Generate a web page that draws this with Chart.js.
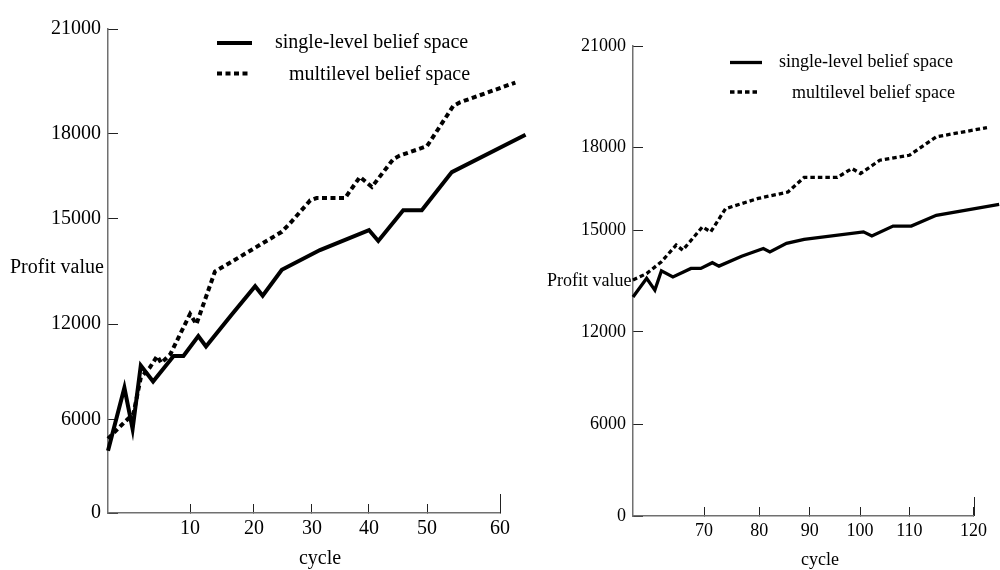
<!DOCTYPE html>
<html>
<head>
<meta charset="utf-8">
<script src="https://cdn.jsdelivr.net/npm/chart.js@4.4.1/dist/chart.umd.min.js"></script>
<style>
html,body{margin:0;padding:0;background:#fff;}
#wrap{position:relative;width:1000px;height:570px;overflow:hidden;background:#fff;}
#c1{position:absolute;left:0;top:0;width:540px;height:570px;}
#c2{position:absolute;left:540px;top:0;width:460px;height:570px;}
</style>
</head>
<body>
<div id="wrap">
<canvas id="c1" width="540" height="570"></canvas>
<canvas id="c2" width="460" height="570"></canvas>
</div>
<script>
// ---------------- DATA ----------------
const seriesLabels = ['single-level belief space', 'multilevel belief space'];
const yTickValues = [0, 6000, 12000, 15000, 18000, 21000];
const leftXTicks = [10, 20, 30, 40, 50, 60];
const rightXTicks = [70, 80, 90, 100, 110, 120];

// Left panel (cycles 0-60)
const leftSingleCycle  = [0, 2, 3, 4, 5.5, 8, 9.2, 11.3, 12.5, 16.5, 20.2, 21.5, 24.8, 31.4, 40, 41.6, 45.9, 49.1, 53.4, 63.5];
const leftSingleProfit = [4000, 8000, 5400, 9400, 8400, 10000, 10000, 11250, 10600, 12270, 13080, 12810, 13550, 14110, 14680, 14370, 15300, 15300, 16640, 17950];
const leftMultiCycle   = [0, 2, 3.1, 4, 5.1, 6, 6.5, 7.6, 10, 11, 13.9, 15.7, 24.8, 26.2, 29.7, 30.8, 35.8, 38.4, 40.5, 44.2, 45.3, 50, 53.6, 54.5, 62.1];
const leftMultiProfit  = [4770, 5830, 6360, 8640, 9270, 10000, 9560, 10110, 12290, 12000, 13500, 13690, 14630, 14870, 15650, 15730, 15730, 16470, 16120, 17100, 17220, 17550, 18790, 18890, 19460];

// Right panel (cycles 57-124)
const rightSingleCycle  = [57, 59.5, 61, 62.2, 64.3, 67.6, 69.4, 71.5, 72.7, 76.8, 80.8, 82.1, 85.4, 88.9, 100.7, 102.4, 106.7, 110.3, 114.2, 124];
const rightSingleProfit = [13030, 13580, 13230, 13800, 13620, 13870, 13870, 14040, 13940, 14230, 14460, 14360, 14610, 14730, 14950, 14830, 15150, 15150, 15540, 15930];
const rightMultiCycle   = [57, 59.5, 62.2, 64.9, 66.1, 69.7, 71.2, 73.9, 79.8, 85.7, 88.9, 95.5, 98.4, 100.1, 104, 110, 114.2, 122.1];
const rightMultiProfit  = [13530, 13720, 14070, 14560, 14410, 15120, 14950, 15780, 16150, 16380, 16910, 16910, 17230, 17050, 17530, 17710, 18310, 18580];

// ---------------- SCALE (piecewise linear axis, as in the original figure) ----------------
function pwForward(v, vals, fr) {
  const n = vals.length;
  let i = 0;
  if (v <= vals[0]) i = 0;
  else if (v >= vals[n - 1]) i = n - 2;
  else { while (v > vals[i + 1]) i++; }
  return fr[i] + (v - vals[i]) / (vals[i + 1] - vals[i]) * (fr[i + 1] - fr[i]);
}
function pwInverse(f, vals, fr) {
  const n = fr.length;
  let i = 0;
  if (f <= fr[0]) i = 0;
  else if (f >= fr[n - 1]) i = n - 2;
  else { while (f > fr[i + 1]) i++; }
  return vals[i] + (f - fr[i]) / (fr[i + 1] - fr[i]) * (vals[i + 1] - vals[i]);
}
function makePiecewise(id, vals, fr) {
  class S extends Chart.LinearScale {
    getPixelForValue(value) {
      if (value === null || value === undefined || isNaN(value)) return NaN;
      return this.getPixelForDecimal(pwForward(value, vals, fr));
    }
    getValueForPixel(pixel) {
      return pwInverse(this.getDecimalForPixel(pixel), vals, fr);
    }
  }
  S.id = id;
  Chart.register(S);
  return id;
}

function toPoints(xs, ys) { return xs.map((x, i) => ({ x: x, y: ys[i] })); }

function decorPlugin(p) {
  return {
    id: 'decor',
    afterDraw(chart) {
      const ctx = chart.ctx;
      const ca = chart.chartArea;
      const xs = chart.scales.x;
      ctx.save();
      // taller tick mark at the end of the x axis
      const ex = Math.round(xs.getPixelForValue(p.xEnd)) + 0.5;
      ctx.strokeStyle = '#222';
      ctx.lineWidth = 1;
      ctx.beginPath();
      ctx.moveTo(ex, ca.bottom);
      ctx.lineTo(ex, ca.bottom - 19);
      ctx.stroke();
      // axis titles
      ctx.fillStyle = '#000';
      ctx.font = p.fs + 'px "Liberation Serif", "Times New Roman", serif';
      ctx.textBaseline = 'middle';
      ctx.textAlign = 'left';
      ctx.fillText('Profit value', p.ylab[0], p.ylab[1]);
      ctx.textAlign = 'center';
      ctx.fillText('cycle', p.xlab[0], p.xlab[1]);
      // legend
      chart.data.datasets.forEach((ds, i) => {
        const L = p.legend[i];
        ctx.setLineDash(ds.borderDash || []);
        ctx.lineWidth = ds.borderWidth;
        ctx.strokeStyle = ds.borderColor;
        ctx.beginPath();
        ctx.moveTo(L[0], L[2]);
        ctx.lineTo(L[1], L[2]);
        ctx.stroke();
        ctx.setLineDash([]);
        ctx.textAlign = 'left';
        ctx.fillText(ds.label, L[3], L[4]);
      });
      ctx.restore();
    }
  };
}

function buildChart(canvasId, p) {
  const xType = makePiecewise('pwx_' + canvasId, p.xBreaks, p.xFracs);
  const yType = makePiecewise('pwy_' + canvasId, yTickValues, p.yFracs);
  const font = { family: '"Liberation Serif", "Times New Roman", serif', size: p.fs };
  return new Chart(document.getElementById(canvasId), {
    type: 'line',
    data: {
      datasets: [
        { label: seriesLabels[0], data: toPoints(p.sx, p.sy), borderColor: '#000', borderWidth: p.lw,
          pointRadius: 0, tension: 0, fill: false, clip: false, borderJoinStyle: 'miter' },
        { label: seriesLabels[1], data: toPoints(p.mx, p.my), borderColor: '#000', borderWidth: p.lw,
          borderDash: p.dash, pointRadius: 0, tension: 0, fill: false, clip: false }
      ]
    },
    options: {
      responsive: false,
      animation: false,
      events: [],
      layout: { padding: p.padding },
      plugins: { legend: { display: false }, tooltip: { enabled: false } },
      scales: {
        x: {
          type: xType,
          afterBuildTicks: s => { s.ticks = p.xTicks.map(v => ({ value: v })); },
          afterFit: s => { s.height = 40; },
          grid: { display: true, drawOnChartArea: false, drawTicks: true, tickLength: -9, color: '#222', lineWidth: 1 },
          border: { display: true, color: '#707070', width: 1.5 },
          ticks: { padding: 13, color: '#000', font: font, autoSkip: false, maxRotation: 0, callback: v => String(v) }
        },
        y: {
          type: yType,
          afterBuildTicks: s => { s.ticks = yTickValues.map(v => ({ value: v })); },
          afterFit: s => { s.width = p.yWidth; },
          grid: { display: true, drawOnChartArea: false, drawTicks: true, tickLength: -10, color: '#222', lineWidth: 1 },
          border: { display: true, color: '#707070', width: 1.5 },
          ticks: { padding: 17, color: '#000', font: font, autoSkip: false, callback: v => String(v) }
        }
      }
    },
    plugins: [decorPlugin(p)]
  });
}

buildChart('c1', {
  sx: leftSingleCycle, sy: leftSingleProfit, mx: leftMultiCycle, my: leftMultiProfit,
  xTicks: leftXTicks, xEnd: 60,
  xBreaks: [0, 10, 20, 30, 40, 50, 60],
  xFracs: [0, 0.2092, 0.3724, 0.5204, 0.6658, 0.8138, 1],
  yFracs: [0, 0.193, 0.3901, 0.6078, 0.7844, 1],
  fs: 20, lw: 4, dash: [5, 3.5],
  padding: { left: 0, top: 26, right: 40, bottom: 17 }, yWidth: 108,
  ylab: [10, 268], xlab: [320, 559],
  legend: [[217, 252, 43, 275, 43], [217, 250, 73.5, 289, 75]]
});

buildChart('c2', {
  sx: rightSingleCycle, sy: rightSingleProfit, mx: rightMultiCycle, my: rightMultiProfit,
  xTicks: rightXTicks, xEnd: 120,
  xBreaks: [57, 70, 80, 90, 100, 110, 120],
  xFracs: [0, 0.2087, 0.371, 0.5188, 0.6667, 0.8116, 1],
  yFracs: [0, 0.1956, 0.3919, 0.6081, 0.7846, 1],
  fs: 18, lw: 3.3, dash: [4.5, 3],
  padding: { left: 0, top: 46, right: 22, bottom: 14 }, yWidth: 93,
  ylab: [7, 281], xlab: [280, 560],
  legend: [[190, 222, 62.5, 239, 62], [190, 218, 92, 252, 93]]
});
</script>
</body>
</html>
